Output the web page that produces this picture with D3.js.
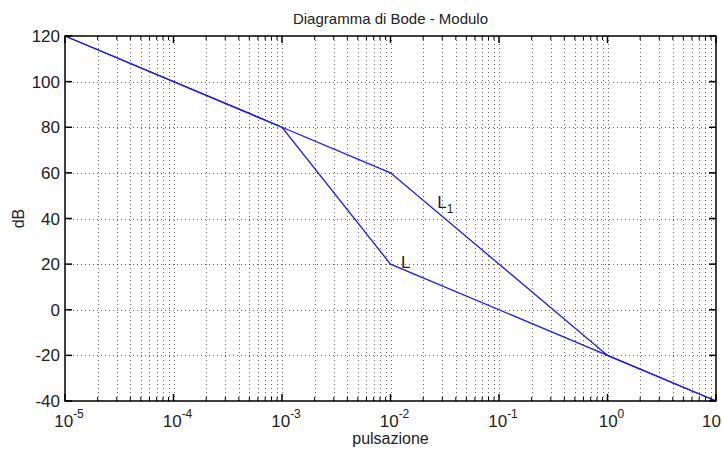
<!DOCTYPE html>
<html>
<head>
<meta charset="utf-8">
<script src="https://cdn.jsdelivr.net/npm/d3@7"></script>
<style>
body { margin: 0; background: #fff; }
text { font-family: "Liberation Sans", Arial, sans-serif; }
</style>
</head>
<body>
<script>
var w = 723;
var h = 451;
var margin = {left: 65, right: 7, top: 36, bottom: 50};

// data
var freqL1 = [1e-5, 1e-3, 1e-2, 1, 10];
var magL1 = [120, 80, 60, -20, -40];
var freqL = [1e-5, 1e-3, 1e-2, 1, 10];
var magL = [120, 80, 20, -20, -40];
var xTicks = [1e-5, 1e-4, 1e-3, 1e-2, 1e-1, 1e0, 1e1];
var xExp = ["-5", "-4", "-3", "-2", "-1", "0", ""];
var yTicks = [-40, -20, 0, 20, 40, 60, 80, 100, 120];

var xScale = d3.scaleLog()
    .domain([1e-5, 10])
    .range([margin.left, w - margin.right]);
var yScale = d3.scaleLinear()
    .domain([-40, 120])
    .range([h - margin.bottom, margin.top]);

var x0 = margin.left, x1 = w - margin.right;
var y0 = h - margin.bottom, y1 = margin.top;

// minor ticks 2..9 in every decade
var minor = [];
for (var e = -5; e < 1; e++) {
    for (var k = 2; k < 10; k++) minor.push(k * Math.pow(10, e));
}

var svg = d3.select("body").append("svg")
    .attr("width", w)
    .attr("height", h);

//grid
var grid = svg.append("g")
    .attr("stroke", "#000")
    .attr("stroke-width", 1)
    .attr("stroke-dasharray", "1,3");
grid.selectAll(".gx")
    .data(minor.concat(xTicks.slice(1, -1)))
    .enter().append("line")
    .attr("x1", function(d) { return Math.round(xScale(d)) + 0.5; })
    .attr("x2", function(d) { return Math.round(xScale(d)) + 0.5; })
    .attr("y1", y0)
    .attr("y2", y1)
    .attr("stroke-opacity", 0.6);
grid.selectAll(".gy")
    .data(yTicks.slice(1, -1))
    .enter().append("line")
    .attr("x1", x0)
    .attr("x2", x1)
    .attr("y1", function(d) { return Math.round(yScale(d)) + 0.5; })
    .attr("y2", function(d) { return Math.round(yScale(d)) + 0.5; })
    .attr("stroke-opacity", 0.6);

//lines
var line = d3.line()
    .x(function(d) { return xScale(d[0]); })
    .y(function(d) { return yScale(d[1]); });

svg.append("path")
    .datum(d3.zip(freqL1, magL1))
    .attr("d", line)
    .attr("fill", "none")
    .attr("stroke", "#1a1aff")
    .attr("stroke-width", 1.3);
svg.append("path")
    .datum(d3.zip(freqL, magL))
    .attr("d", line)
    .attr("fill", "none")
    .attr("stroke", "#1a1aff")
    .attr("stroke-width", 1.3);

//box and inward ticks
var axes = svg.append("g").attr("stroke", "#000").attr("stroke-width", 1.5);
axes.append("rect")
    .attr("x", x0).attr("y", y1)
    .attr("width", x1 - x0).attr("height", y0 - y1)
    .attr("fill", "none");

var tickLen = 7, minorLen = 4;
xTicks.forEach(function(d) {
    var x = xScale(d);
    axes.append("line").attr("x1", x).attr("x2", x).attr("y1", y0).attr("y2", y0 - tickLen);
    axes.append("line").attr("x1", x).attr("x2", x).attr("y1", y1).attr("y2", y1 + tickLen);
});
minor.forEach(function(d) {
    var x = xScale(d);
    axes.append("line").attr("x1", x).attr("x2", x).attr("y1", y0).attr("y2", y0 - minorLen).attr("stroke-width", 1);
    axes.append("line").attr("x1", x).attr("x2", x).attr("y1", y1).attr("y2", y1 + minorLen).attr("stroke-width", 1);
});
yTicks.forEach(function(d) {
    var y = yScale(d);
    axes.append("line").attr("x1", x0).attr("x2", x0 + tickLen).attr("y1", y).attr("y2", y);
    axes.append("line").attr("x1", x1).attr("x2", x1 - tickLen).attr("y1", y).attr("y2", y);
});

//tick labels
svg.selectAll(".ylab")
    .data(yTicks)
    .enter().append("text")
    .attr("x", x0 - 5)
    .attr("y", function(d) { return yScale(d) + 6; })
    .attr("text-anchor", "end")
    .attr("font-size", "17px")
    .attr("fill", "#222")
    .text(function(d) { return d; });

var xl = svg.selectAll(".xlab")
    .data(xTicks)
    .enter().append("text")
    .attr("x", function(d, i) { return i == xTicks.length - 1 ? w - 2 : xScale(d) + 4; })
    .attr("y", y0 + 26)
    .attr("text-anchor", function(d, i) { return i == xTicks.length - 1 ? "end" : "middle"; })
    .attr("font-size", "17px")
    .attr("fill", "#222");
xl.append("tspan").text("10");
xl.append("tspan")
    .attr("dy", -9)
    .attr("font-size", "12px")
    .text(function(d, i) { return xExp[i]; });

//titles
svg.append("text")
    .attr("x", (x0 + x1) / 2)
    .attr("y", 24)
    .attr("text-anchor", "middle")
    .attr("font-size", "15px")
    .attr("fill", "#222")
    .text("Diagramma di Bode - Modulo");
svg.append("text")
    .attr("x", (x0 + x1) / 2)
    .attr("y", 444)
    .attr("text-anchor", "middle")
    .attr("font-size", "16px")
    .attr("fill", "#222")
    .text("pulsazione");
svg.append("text")
    .attr("transform", "translate(24," + ((y0 + y1) / 2) + ") rotate(-90)")
    .attr("text-anchor", "middle")
    .attr("font-size", "16px")
    .attr("fill", "#222")
    .text("dB");

//curve labels
var l1 = svg.append("text")
    .attr("x", xScale(0.027))
    .attr("y", yScale(44.5))
    .attr("font-size", "17px")
    .attr("fill", "#222");
l1.append("tspan").text("L");
l1.append("tspan").attr("dy", 5).attr("font-size", "12px").text("1");
svg.append("text")
    .attr("x", xScale(0.0125))
    .attr("y", yScale(18.5))
    .attr("font-size", "17px")
    .attr("fill", "#222")
    .text("L");
</script>
</body>
</html>
